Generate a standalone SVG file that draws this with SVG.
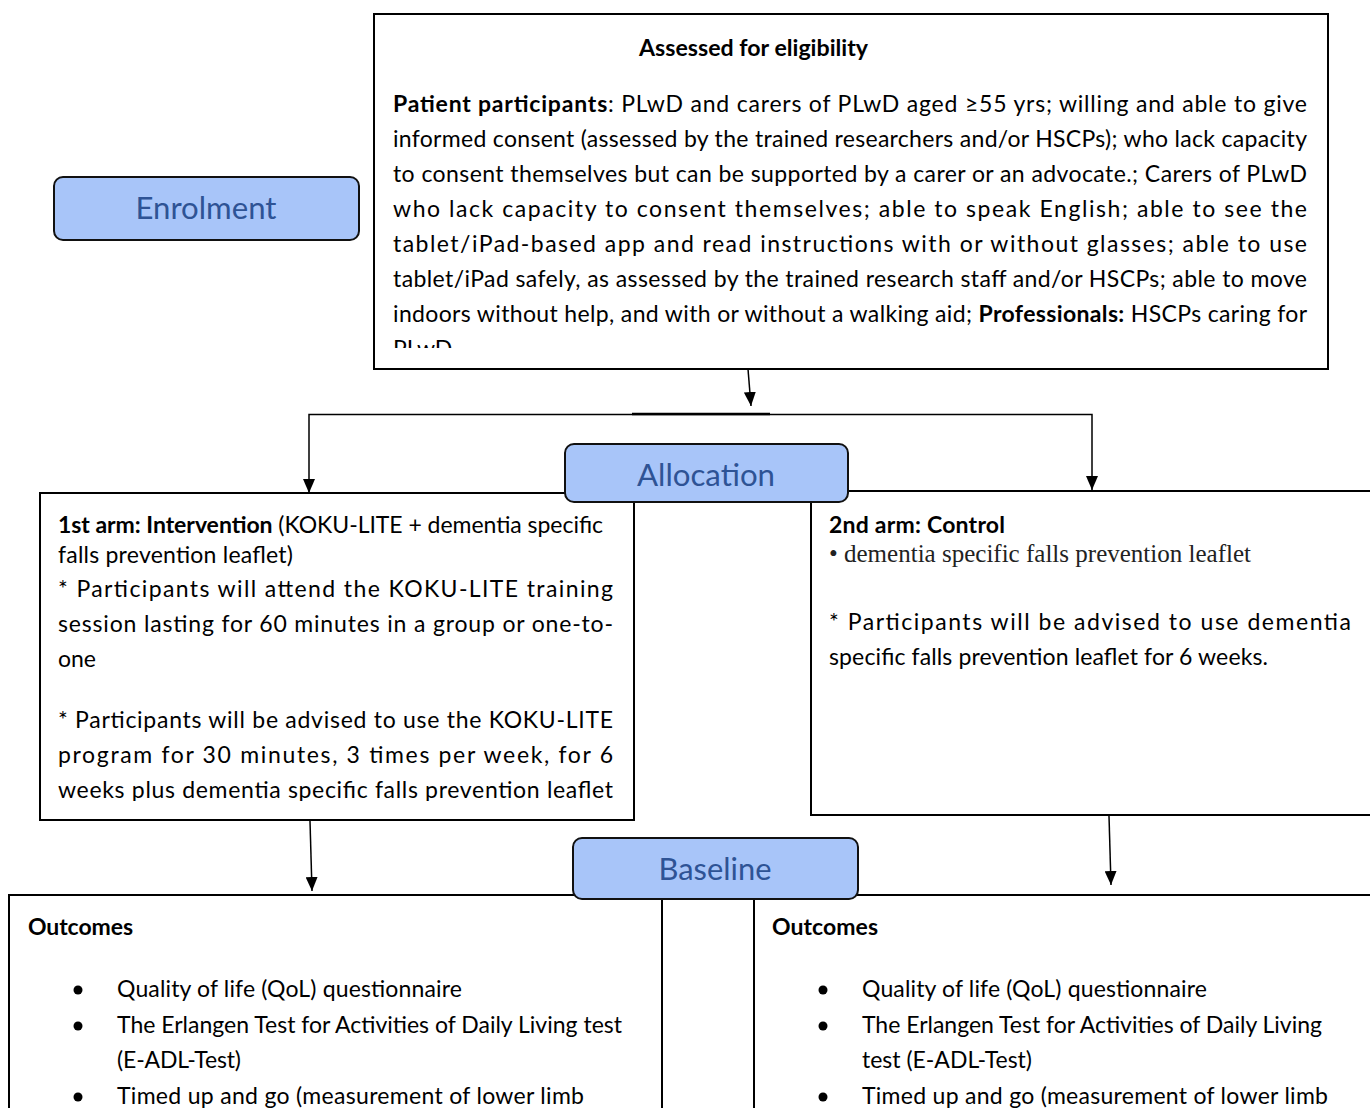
<svg xmlns="http://www.w3.org/2000/svg" width="1370" height="1108" viewBox="0 0 1370 1108">
<style>
.box{fill:#fff;stroke:#000;stroke-width:2}
.lbl{fill:#a8c5f9;stroke:#111;stroke-width:2}
.lt{font-family:Lato,"Liberation Sans",sans-serif;font-size:31px;fill:#2e5395;text-anchor:middle}
.t{font-family:Lato,"Liberation Sans",sans-serif;font-size:23px;fill:#000}
.b{font-weight:bold}
.serif{font-family:"Liberation Serif",serif;font-size:25px;fill:#222}
.con{stroke:#000;stroke-width:1.5;fill:none}
</style>
<defs>
<marker id="ah" viewBox="0 0 14 12" refX="14" refY="6" markerWidth="14" markerHeight="12" markerUnits="userSpaceOnUse" orient="auto">
<path d="M0,0 L14,6 L0,12 Z" fill="#000"/>
</marker>
<clipPath id="clipTop"><rect x="374" y="14" width="954" height="334"/></clipPath>
<clipPath id="clipArm1"><rect x="40" y="493" width="594" height="308"/></clipPath>
</defs>

<g id="eligibility">
<rect class="box" x="374" y="14" width="954" height="355"/>
<text class="t b" x="639" y="56" textLength="229" lengthAdjust="spacingAndGlyphs">Assessed for eligibility</text>
<g clip-path="url(#clipTop)">
<text class="t" x="393" y="112" textLength="914" lengthAdjust="spacing"><tspan class="b">Patient participants</tspan>: PLwD and carers of PLwD aged ≥55 yrs; willing and able to give</text>
<text class="t" x="393" y="147" textLength="914" lengthAdjust="spacing">informed consent (assessed by the trained researchers and/or HSCPs); who lack capacity</text>
<text class="t" x="393" y="182" textLength="914" lengthAdjust="spacing">to consent themselves but can be supported by a carer or an advocate.; Carers of PLwD</text>
<text class="t" x="393" y="217" textLength="914" lengthAdjust="spacing">who lack capacity to consent themselves; able to speak English; able to see the</text>
<text class="t" x="393" y="252" textLength="914" lengthAdjust="spacing">tablet/iPad-based app and read instructions with or without glasses; able to use</text>
<text class="t" x="393" y="287" textLength="914" lengthAdjust="spacing">tablet/iPad safely, as assessed by the trained research staff and/or HSCPs; able to move</text>
<text class="t" x="393" y="322" textLength="914" lengthAdjust="spacing">indoors without help, and with or without a walking aid; <tspan class="b">Professionals:</tspan> HSCPs caring for</text>
<text class="t" x="393" y="357">PLwD</text>
</g>
</g>

<g id="arm1">
<rect class="box" x="40" y="493" width="594" height="327"/>
<g clip-path="url(#clipArm1)">
<text class="t" x="58" y="533" textLength="545" lengthAdjust="spacing"><tspan class="b">1st arm: Intervention</tspan> (KOKU-LITE + dementia specific</text>
<text class="t" x="58" y="563" textLength="235" lengthAdjust="spacing">falls prevention leaflet)</text>
<text class="t" x="58" y="597" textLength="555" lengthAdjust="spacing">*  Participants will attend the KOKU-LITE training</text>
<text class="t" x="58" y="632" textLength="555" lengthAdjust="spacing">session lasting for 60 minutes in a group or one-to-</text>
<text class="t" x="58" y="667">one</text>
<text class="t" x="58" y="728" textLength="555" lengthAdjust="spacing">* Participants will be advised to use the KOKU-LITE</text>
<text class="t" x="58" y="763" textLength="555" lengthAdjust="spacing">program for 30 minutes, 3 times per week, for 6</text>
<text class="t" x="58" y="798" textLength="555" lengthAdjust="spacing">weeks plus dementia specific falls prevention leaflet</text>
</g>
</g>

<g id="arm2">
<rect class="box" x="811" y="491" width="700" height="324"/>
<text class="t b" x="829" y="533" textLength="176" lengthAdjust="spacing">2nd arm: Control</text>
<text class="serif" x="829" y="562" textLength="422" lengthAdjust="spacing">• dementia specific falls prevention leaflet</text>
<text class="t" x="829" y="630" textLength="522" lengthAdjust="spacing">* Participants will be advised to use dementia</text>
<text class="t" x="829" y="665" textLength="439" lengthAdjust="spacing">specific falls prevention leaflet for 6 weeks.</text>
</g>

<g id="outcomes1">
<rect class="box" x="9" y="895" width="653" height="300"/>
<text class="t b" x="28" y="935" textLength="105" lengthAdjust="spacing">Outcomes</text>
<circle cx="78" cy="990" r="4.5" fill="#000"/>
<circle cx="78" cy="1026" r="4.5" fill="#000"/>
<circle cx="78" cy="1097" r="4.5" fill="#000"/>
<text class="t" x="117" y="997" textLength="345" lengthAdjust="spacing">Quality of life (QoL) questionnaire</text>
<text class="t" x="117" y="1033" textLength="505" lengthAdjust="spacing">The Erlangen Test for Activities of Daily Living test</text>
<text class="t" x="117" y="1068" textLength="124" lengthAdjust="spacing">(E-ADL-Test)</text>
<text class="t" x="117" y="1104" textLength="467" lengthAdjust="spacing">Timed up and go (measurement of lower limb</text>
</g>

<g id="outcomes2">
<rect class="box" x="754" y="895" width="700" height="300"/>
<text class="t b" x="772" y="935" textLength="106" lengthAdjust="spacing">Outcomes</text>
<circle cx="823" cy="990" r="4.5" fill="#000"/>
<circle cx="823" cy="1026" r="4.5" fill="#000"/>
<circle cx="823" cy="1097" r="4.5" fill="#000"/>
<text class="t" x="862" y="997" textLength="345" lengthAdjust="spacing">Quality of life (QoL) questionnaire</text>
<text class="t" x="862" y="1033" textLength="460" lengthAdjust="spacing">The Erlangen Test for Activities of Daily Living</text>
<text class="t" x="862" y="1068" textLength="170" lengthAdjust="spacing">test (E-ADL-Test)</text>
<text class="t" x="862" y="1104" textLength="466" lengthAdjust="spacing">Timed up and go (measurement of lower limb</text>
</g>

<g id="connectors">
<line class="con" x1="748" y1="369" x2="751" y2="406" marker-end="url(#ah)"/>
<polyline class="con" points="309,493 309,414.5 1092,414.5 1092,490"/>
<line x1="309" y1="479" x2="309" y2="493" stroke="none" marker-end="url(#ah)"/>
<line x1="1092" y1="476" x2="1092" y2="490" stroke="none" marker-end="url(#ah)"/>
<line x1="632" y1="414" x2="770" y2="414" stroke="#000" stroke-width="2.5"/>
<line class="con" x1="310" y1="821" x2="312" y2="891" marker-end="url(#ah)"/>
<line class="con" x1="1109" y1="816" x2="1111" y2="885" marker-end="url(#ah)"/>
</g>

<g id="enrolment">
<rect class="lbl" x="54" y="177" width="305" height="63" rx="9"/>
<text class="lt" x="206" y="219" textLength="141" lengthAdjust="spacingAndGlyphs">Enrolment</text>
</g>
<g id="allocation">
<rect class="lbl" x="565" y="444" width="283" height="58" rx="9"/>
<text class="lt" x="706" y="486" textLength="138" lengthAdjust="spacingAndGlyphs">Allocation</text>
</g>
<g id="baseline">
<rect class="lbl" x="573" y="838" width="285" height="61" rx="9"/>
<text class="lt" x="715" y="880" textLength="113" lengthAdjust="spacingAndGlyphs">Baseline</text>
</g>
</svg>
